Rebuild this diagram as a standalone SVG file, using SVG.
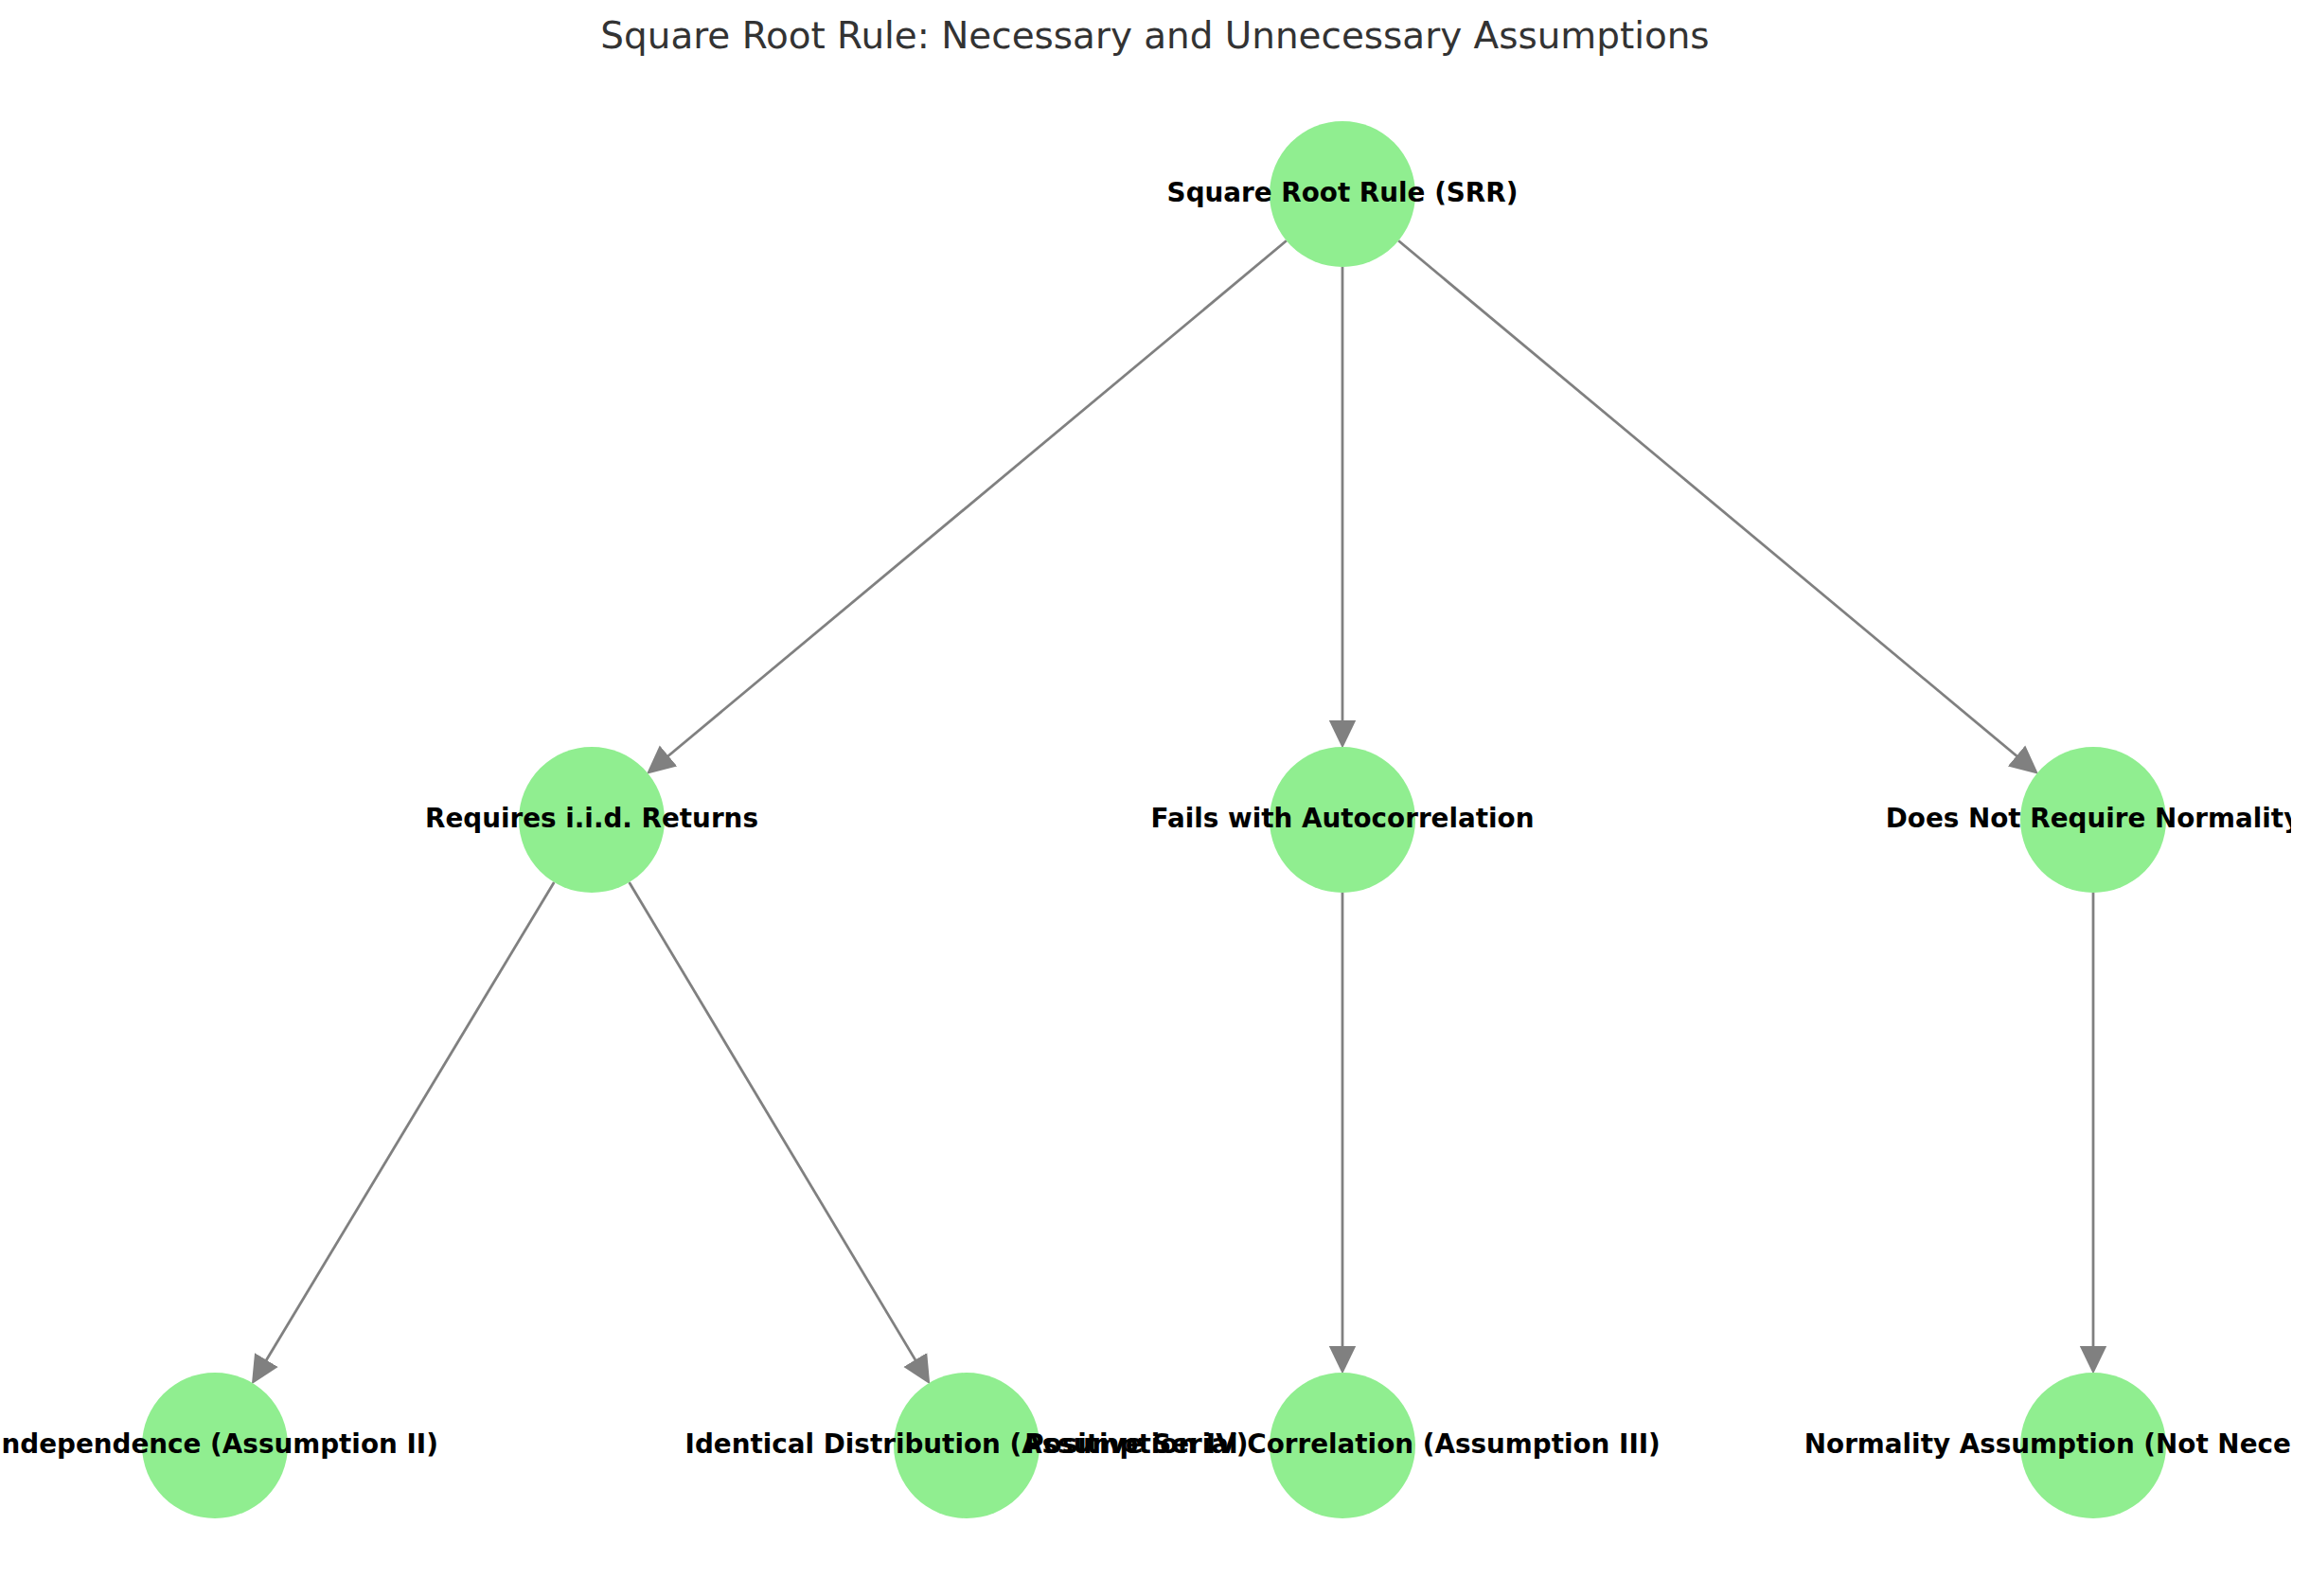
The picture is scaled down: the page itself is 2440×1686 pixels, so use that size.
<svg xmlns="http://www.w3.org/2000/svg" width="2440" height="1686" viewBox="0 0 2440 1686">
<defs>
<style>
.node{fill:#90EE90;}
.lbl{font-family:"DejaVu Sans","Liberation Sans",sans-serif;font-weight:bold;font-size:27.8px;fill:#000;text-anchor:middle;}
.title{font-family:"DejaVu Sans","Liberation Sans",sans-serif;font-size:38.9px;fill:#333333;text-anchor:middle;}
.edge{stroke:#808080;stroke-width:2.78;fill:none;marker-end:url(#arr);}
</style>
<marker id="arr" markerUnits="userSpaceOnUse" markerWidth="30" markerHeight="30" viewBox="0 -13 26 26" refX="16" refY="0" orient="auto">
<path d="M0,-12.5 L26,0 L0,12.5 Z" fill="#808080"/>
</marker>
<clipPath id="area"><rect x="0" y="0" width="2420" height="1686"/></clipPath>
</defs>
<rect width="2440" height="1686" fill="#ffffff"/>
<text class="title" x="1220" y="51">Square Root Rule: Necessary and Unnecessary Assumptions</text>
<g id="edges">
<line class="edge" x1="1358.85" y1="254.30" x2="691.83" y2="810.30"/>
<line class="edge" x1="1418" y1="282" x2="1418" y2="779"/>
<line class="edge" x1="1477.15" y1="254.30" x2="2144.17" y2="810.30"/>
<line class="edge" x1="585.28" y1="931.97" x2="271.88" y2="1452.46"/>
<line class="edge" x1="664.57" y1="932.05" x2="976.29" y2="1452.37"/>
<line class="edge" x1="1418" y1="943" x2="1418" y2="1440"/>
<line class="edge" x1="2211" y1="943" x2="2211" y2="1440"/>
</g>
<g id="n-srr"><circle class="node" cx="1418" cy="205" r="77"/></g>
<g id="n-iid"><circle class="node" cx="625" cy="866" r="77"/></g>
<g id="n-fails"><circle class="node" cx="1418" cy="866" r="77"/></g>
<g id="n-notnorm"><circle class="node" cx="2211" cy="866" r="77"/></g>
<g id="n-indep"><circle class="node" cx="227" cy="1527" r="77"/></g>
<g id="n-ident"><circle class="node" cx="1021" cy="1527" r="77"/></g>
<g id="n-pos"><circle class="node" cx="1418" cy="1527" r="77"/></g>
<g id="n-norm"><circle class="node" cx="2211" cy="1527" r="77"/></g>
<g id="labels" clip-path="url(#area)">
<text class="lbl" x="1418" y="213">Square Root Rule (SRR)</text>
<text class="lbl" x="625" y="874">Requires i.i.d. Returns</text>
<text class="lbl" x="1418" y="874">Fails with Autocorrelation</text>
<text class="lbl" x="2211" y="874">Does Not Require Normality</text>
<text class="lbl" x="227" y="1535">Independence (Assumption II)</text>
<text class="lbl" x="1021" y="1535">Identical Distribution (Assumption IV)</text>
<text class="lbl" x="1418" y="1535">Positive Serial Correlation (Assumption III)</text>
<text class="lbl" x="2211" y="1535">Normality Assumption (Not Necessary)</text>
</g>
</svg>
